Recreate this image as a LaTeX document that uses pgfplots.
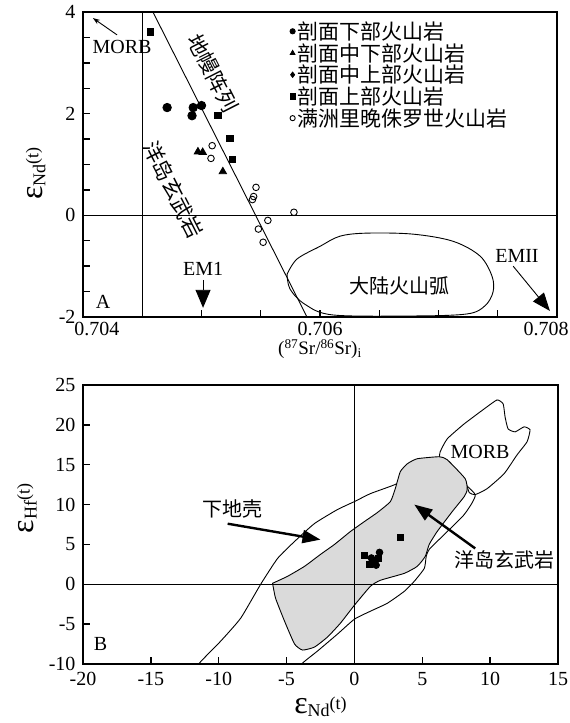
\documentclass[border=0pt]{standalone}
\usepackage{pgfplots}
\pgfplotsset{compat=1.18}
\usepackage{fontspec}
\setmainfont{Liberation Serif}
\newfontfamily\cjk{Noto Sans CJK SC}
\usetikzlibrary{arrows.meta}
\definecolor{oib}{RGB}{218,218,218}
\newcommand{\epsl}[1]{{\fontsize{32}{32}\selectfont ε}{\fontsize{18}{18}\selectfont\raisebox{-3pt}{#1}\raisebox{4pt}{(t)}}}
\pgfplotsset{
  myaxis/.style={
    scale only axis,
    axis line style={line width=1.8pt},
    tick style={line width=1.4pt, black},
    major tick length=7pt, minor tick length=7pt,
    tick align=inside, xtick pos=bottom, ytick pos=left,
    /pgf/number format/assume math mode=true,
    tick label style={font=\fontsize{20}{20}\selectfont},
    yticklabel style={xshift=-4pt},
    every axis plot/.append style={line width=0.9pt},
  },
  topA/.style={at={(83pt,406pt)}, anchor=south west, width=474pt, height=305pt,
    xmin=0.704, xmax=0.708, ymin=-2, ymax=4},
}
\begin{document}
\begin{tikzpicture}
\useasboundingbox (0pt,0pt) rectangle (570pt,723pt);
% ---------------- Panel A : frame and data ----------------
\begin{axis}[myaxis, topA,
  scaled x ticks=false,
  xtick={0.704,0.706,0.708},
  xticklabels={\hspace*{28pt}0.704,0.706,0.708\hspace*{22pt}},
  xticklabel style={yshift=-2pt},
  minor xtick={0.7045,0.705,0.7055,0.7065,0.707,0.7075},
  ytick={-2,0,2,4},
  minor ytick={-1.5,-1,-0.5,0.5,1,1.5,2.5,3,3.5},
  xlabel={\fontsize{19}{19}\selectfont(\textsuperscript{87}Sr/\textsuperscript{86}Sr)\textsubscript{i}},
  xlabel style={at={(axis description cs:0.5,-0.106)}, anchor=center},
  ylabel={\epsl{Nd}},
  ylabel style={at={(axis description cs:-0.10,0.47)}, anchor=center},
]
\addplot[black] coordinates {(0.7045,-2) (0.7045,4)};
\addplot[black] coordinates {(0.704,0) (0.708,0)};
\addplot[black] coordinates {(0.70459,4) (0.70589,-2)};
\addplot[black, smooth, tension=0.55] coordinates {
 (0.705722,-1.16) (0.705806,-0.86) (0.706000,-0.61) (0.706169,-0.41) (0.706397,-0.35)
 (0.706785,-0.37) (0.707122,-0.51) (0.707350,-0.80) (0.707452,-1.20) (0.707460,-1.51)
 (0.707392,-1.78) (0.707241,-1.94) (0.706785,-1.98) (0.706110,-1.96) (0.705873,-1.75)
 (0.705747,-1.45) (0.705722,-1.16)};
\addplot[only marks, mark=*, mark size=4.2pt, black] coordinates {
 (0.70471,2.12) (0.70493,2.12) (0.70492,1.96) (0.70500,2.16)};
\addplot[only marks, mark=triangle*, mark size=4.2pt, black] coordinates {
 (0.70497,1.25) (0.70501,1.24) (0.70518,0.86)};
\addplot[only marks, mark=square*, mark size=3.2pt, black] coordinates {
 (0.70457,3.61) (0.70514,1.96) (0.70524,1.51) (0.70526,1.10)};
\addplot[only marks, mark=o, mark size=3.3pt, black] coordinates {
 (0.70509,1.37) (0.70508,1.12) (0.70546,0.55) (0.70544,0.37) (0.70543,0.31)
 (0.70578,0.06) (0.70556,-0.10) (0.70548,-0.27) (0.70552,-0.53)};
\end{axis}
% ---------------- Panel A : annotations ----------------
\begin{axis}[myaxis, topA, axis lines=none, xtick=\empty, ytick=\empty, clip=false]
\node[font=\fontsize{20}{20}\selectfont] at (axis cs:0.704329,3.31) {MORB};
\draw[line width=0.9pt, -{Stealth[length=7pt,width=5pt]}] (axis cs:0.704287,3.55) -- (axis cs:0.704084,3.88);
\node[font=\fontsize{20}{20}\selectfont] at (axis cs:0.705013,-1.06) {EM1};
\draw[line width=0.9pt, -{Triangle[length=18pt,width=15pt]}] (axis cs:0.705013,-1.27) -- (axis cs:0.705013,-1.82);
\node[font=\fontsize{20}{20}\selectfont] at (axis cs:0.707662,-0.80) {EMII};
\draw[line width=0.9pt, -{Triangle[length=18pt,width=14pt]}] (axis cs:0.70763,-1.0) -- (axis cs:0.70794,-1.88);
\node[font=\cjk\fontsize{20}{20}\selectfont] at (axis cs:0.706675,-1.39) {大陆火山弧};
\node[font=\fontsize{20}{20}\selectfont] at (axis cs:0.704169,-1.71) {A};
\node[font=\cjk\fontsize{21}{21}\selectfont, rotate=-63] at (axis cs:0.705097,2.80) {地幔阵列};
\node[font=\cjk\fontsize{21}{21}\selectfont, rotate=-63] at (axis cs:0.70476,0.51) {洋岛玄武岩};
\end{axis}
% ---------------- Panel A : legend ----------------
\begin{axis}[myaxis, topA, axis lines=none, xtick=\empty, ytick=\empty,
  legend style={at={(axis description cs:0.43,0.982)}, anchor=north west, draw=none, fill=none,
    font=\cjk\fontsize{21}{21}\selectfont, cells={anchor=west}, row sep=-1.5pt},
  legend image post style={mark size=2.6pt},
]
\addlegendimage{only marks, mark=*, black}
\addlegendimage{only marks, mark=triangle*, black}
\addlegendimage{only marks, mark=diamond*, black}
\addlegendimage{only marks, mark=square*, black}
\addlegendimage{only marks, mark=o, black}
\legend{剖面下部火山岩,剖面中下部火山岩,剖面中上部火山岩,剖面上部火山岩,满洲里晚侏罗世火山岩}
\end{axis}
% ---------------- Panel B ----------------
\begin{axis}[myaxis, at={(83pt,59pt)}, anchor=south west, width=475pt, height=279pt,
  xmin=-20, xmax=15, ymin=-10, ymax=25,
  xtick={-20,-15,...,15}, ytick={-10,-5,...,25},
  xticklabel style={yshift=-5pt},
  xlabel={\epsl{Nd}},
  xlabel style={at={(axis description cs:0.5,-0.152)}, anchor=center},
  ylabel={\epsl{Hf}\,},
  ylabel style={at={(axis description cs:-0.118,0.56)}, anchor=center},
]
\addplot[black, smooth, tension=0.3] coordinates {
 (-3.5,-12) (-11.8,-12) (-11.54,-10.125) (-9.85,-7.125) (-8.38,-4.25) (-6.91,0) (-5.66,3.25)
 (-4.41,5.375) (-2.94,7.625) (-1.25,9.375) (0,10.375) (1.18,11.375) (2.79,12.375)
 (5.37,14.125) (7.2,13.75) (8.90,11.25) (8.09,8.75) (6.62,6.25) (5.51,4.375)
 (5.29,3.5) (5.15,2.0) (4.41,0.375) (3.68,-0.875) (2.43,-2.375) (1.18,-3.375)
 (0,-4.375) (-1.25,-6.25) (-2.72,-8.375) (-3.97,-10.125) (-4.4,-12)};
\addplot[black, smooth, tension=0.3] coordinates {
 (6.25,15.75) (6.32,16.625) (6.84,18.25) (8.09,20.125) (9.56,22.0) (10.51,23.125)
 (10.96,22.625) (11.10,21.0) (11.32,19.5) (11.84,19.125) (12.5,19.75) (12.94,19.375)
 (12.72,17.875) (11.99,16.25) (11.03,13.875) (9.78,12.0) (8.90,11.25) (8.46,11.5)
 (8.16,12.875) (6.84,15.375) (6.25,15.75)};
\addplot[black, fill=oib, smooth, tension=0.3] coordinates {
 (-6.03,0.125) (-4.93,1.0) (-3.68,2.25) (-2.50,3.75) (-1.47,5.0) (-0.29,6.625)
 (0.74,7.875) (1.69,9.0) (2.65,10.375) (3.01,12.0) (3.38,14.125) (3.90,15.125)
 (4.63,15.75) (6.25,16.0) (6.84,15.625) (8.16,13.25) (8.31,11.875) (8.09,11.0)
 (7.21,9.125) (6.10,6.625) (5.51,5.0) (5.22,3.5) (4.63,2.25) (3.68,1.375)
 (1.91,0.5) (1.18,-0.25) (0,-2.625) (-1.03,-4.875) (-1.99,-6.625) (-2.94,-7.875)
 (-3.82,-8.25) (-4.41,-7.5) (-5.15,-4.625) (-5.81,-1.75) (-6.03,0.125)} --cycle;
\addplot[black] coordinates {(0,-10) (0,25)};
\addplot[black] coordinates {(-20,0) (15,0)};
\addplot[only marks, mark=square*, mark size=3pt, black] coordinates {
 (3.4,5.9) (0.71,3.6) (1.08,2.5) (1.35,2.8) (1.8,3.3)};
\addplot[only marks, mark=*, mark size=3.3pt, black] coordinates {
 (1.25,3.3) (1.85,4.0) (1.6,2.4)};
\node[font=\cjk\fontsize{20}{20}\selectfont] at (axis cs:-8.97,9.5) {下地壳};
\draw[line width=2.4pt, -{Triangle[length=18pt,width=13pt]}] (axis cs:-9.34,7.6) -- (axis cs:-2.5,5.6);
\node[font=\cjk\fontsize{20}{20}\selectfont] at (axis cs:11.03,3.1) {洋岛玄武岩};
\draw[line width=2.4pt, -{Triangle[length=18pt,width=13pt]}] (axis cs:8.9,4.5) -- (axis cs:4.41,10.0);
\node[font=\fontsize{20}{20}\selectfont] at (axis cs:9.26,16.6) {MORB};
\node[font=\fontsize{20}{20}\selectfont] at (axis cs:-18.7,-7.5) {B};
\end{axis}
\end{tikzpicture}
\end{document}
